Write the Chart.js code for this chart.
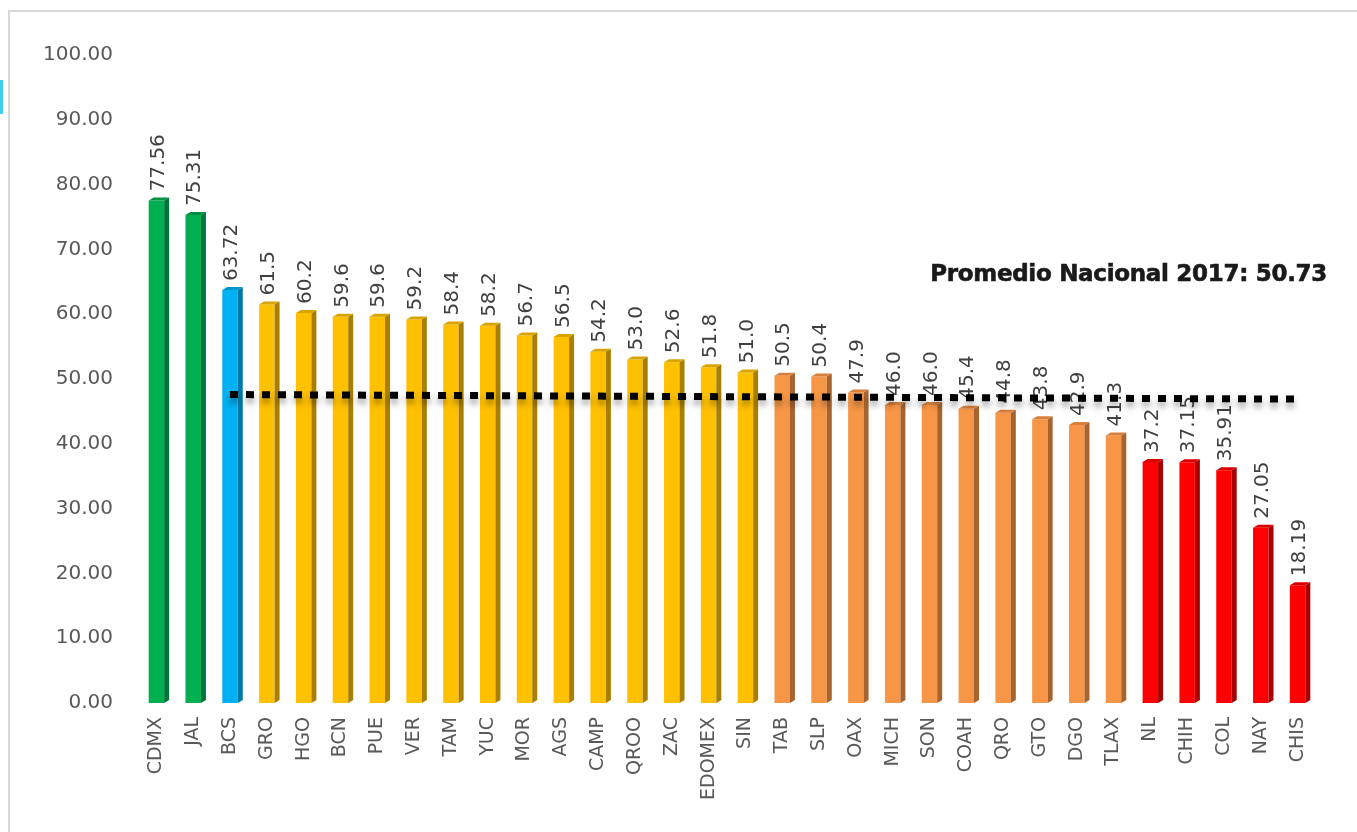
<!DOCTYPE html>
<html>
<head>
<meta charset="utf-8">
<script src="https://cdn.jsdelivr.net/npm/chart.js@4.4.1/dist/chart.umd.min.js"></script>
<style>
  body { margin: 0; background: #fff; overflow: hidden; }
  #frame { position: absolute; left: 8px; top: 10px; width: 1400px; height: 900px;
           border-top: 2px solid #d9d9d9; border-left: 2px solid #d9d9d9; }
  #mark { position: absolute; left: 0; top: 80px; width: 3px; height: 34px; background: #3fcfee; }
  #title { position: absolute; right: 30px; top: 260px; font-family: "DejaVu Sans", sans-serif;
           font-weight: bold; font-size: 23px; color: #1a1a1a; letter-spacing: -0.3px;
           -webkit-text-stroke: 0.6px #1a1a1a; }
  canvas { position: absolute; left: 0; top: 0; }
</style>
</head>
<body>
<div id="frame"></div>
<div id="mark"></div>
<canvas id="chart" width="1357" height="832"></canvas>
<div id="title">Promedio Nacional 2017: 50.73</div>
<script>
const states = ['CDMX', 'JAL', 'BCS', 'GRO', 'HGO', 'BCN', 'PUE', 'VER', 'TAM', 'YUC', 'MOR', 'AGS', 'CAMP', 'QROO', 'ZAC', 'EDOMEX', 'SIN',
    'TAB', 'SLP', 'OAX', 'MICH', 'SON', 'COAH', 'QRO', 'GTO', 'DGO', 'TLAX', 'NL', 'CHIH', 'COL', 'NAY', 'CHIS'];
const scores = [77.56, 75.31, 63.72, 61.5, 60.2, 59.6, 59.6, 59.2, 58.4, 58.2, 56.7, 56.5, 54.2, 53.0, 52.6, 51.8, 51.0,
    50.5, 50.4, 47.9, 46.0, 46.0, 45.4, 44.8, 43.8, 42.9, 41.3, 37.2, 37.15, 35.91, 27.05, 18.19];
const scoreLabels = ['77.56', '75.31', '63.72', '61.5', '60.2', '59.6', '59.6', '59.2', '58.4', '58.2', '56.7', '56.5', '54.2', '53.0', '52.6', '51.8', '51.0',
    '50.5', '50.4', '47.9', '46.0', '46.0', '45.4', '44.8', '43.8', '42.9', '41.3', '37.2', '37.15', '35.91', '27.05', '18.19'];
// tier of each state: 0 green, 1 blue, 2 yellow, 3 orange, 4 red
const tiers = [0, 0, 1, 2, 2, 2, 2, 2, 2, 2, 2, 2, 2, 2, 2, 2, 2,
    3, 3, 3, 3, 3, 3, 3, 3, 3, 3, 4, 4, 4, 4, 4];
// hand drawn average line, as it sits in the picture (start and end)
const avgLine = [null, null, 47.6, null, null, null, null, null, null, null, null, null, null, null, null, null, null,
    null, null, null, null, null, null, null, null, null, null, null, null, null, null, 46.9];
const yTicks = [0, 10, 20, 30, 40, 50, 60, 70, 80, 90, 100];

const frontColors = ['#00b050', '#00b0f0', '#ffc000', '#f79646', '#ff0000'];
const sideColors = ['#00753a', '#0079a6', '#a87f00', '#a8642f', '#a80000'];
const topColors = ['#008f42', '#0096cc', '#d9a300', '#d77f3b', '#d90000'];

const textColor = '#595959';
const fontFamily = '"DejaVu Sans", sans-serif';

const bar3d = {
    id: 'bar3d',
    afterDatasetDraw(chart, args) {
        if (args.index !== 0) return;
        const ctx = chart.ctx;
        const d = 5, h = 3;
        args.meta.data.forEach((bar, i) => {
            const p = bar.getProps(['x', 'y', 'base', 'width'], true);
            const l = p.x - p.width / 2, r = p.x + p.width / 2;
            const t = tiers[i];
            ctx.fillStyle = sideColors[t];
            ctx.beginPath();
            ctx.moveTo(r, p.y);
            ctx.lineTo(r + d, p.y - h);
            ctx.lineTo(r + d, p.base - h);
            ctx.lineTo(r, p.base);
            ctx.closePath();
            ctx.fill();
            ctx.fillStyle = topColors[t];
            ctx.beginPath();
            ctx.moveTo(l, p.y);
            ctx.lineTo(l + d, p.y - h);
            ctx.lineTo(r + d, p.y - h);
            ctx.lineTo(r, p.y);
            ctx.closePath();
            ctx.fill();

            ctx.save();
            ctx.translate(p.x + 2, p.y - 9);
            ctx.rotate(-Math.PI / 2);
            ctx.fillStyle = '#404040';
            ctx.font = '20px ' + fontFamily;
            ctx.textAlign = 'left';
            ctx.textBaseline = 'middle';
            ctx.fillText(scoreLabels[i], 0, 0);
            ctx.restore();
        });
    }
};

const lineShadow = {
    id: 'lineShadow',
    beforeDatasetDraw(chart, args) {
        if (args.index !== 1) return;
        const ctx = chart.ctx;
        ctx.save();
        ctx.shadowColor = 'rgba(0,0,0,0.35)';
        ctx.shadowBlur = 6;
        ctx.shadowOffsetY = 5;
    },
    afterDatasetDraw(chart, args) {
        if (args.index !== 1) return;
        chart.ctx.restore();
    }
};

const ctx = document.getElementById('chart').getContext('2d');
const myChart = new Chart(ctx, {
    type: 'bar',
    data: {
        labels: states,
        datasets: [{
            type: 'bar',
            data: scores,
            backgroundColor: tiers.map(t => frontColors[t]),
            barPercentage: 0.42,
            categoryPercentage: 1,
            order: 1
        }, {
            type: 'line',
            data: avgLine,
            borderColor: '#000',
            borderWidth: 7,
            borderDash: [8, 8],
            borderCapStyle: 'butt',
            pointRadius: 0,
            spanGaps: true,
            tension: 0,
            order: 0
        }]
    },
    options: {
        responsive: false,
        animation: false,
        layout: { padding: { top: 55, right: 41, left: 0, bottom: 0 } },
        plugins: { legend: { display: false }, tooltip: { enabled: false } },
        scales: {
            x: {
                grid: { display: false },
                border: { display: false },
                ticks: { maxRotation: 90, minRotation: 90, color: textColor, padding: 6,
                         font: { family: fontFamily, size: 19 } },
                afterFit: s => { s.height = 129; }
            },
            y: {
                min: 0,
                max: 100,
                afterBuildTicks: s => { s.ticks = yTicks.map(v => ({ value: v })); },
                grid: { display: false },
                border: { display: false },
                ticks: { color: textColor, padding: 17, font: { family: fontFamily, size: 20 },
                         callback: v => v.toFixed(2) },
                afterFit: s => { s.width = 138; }
            }
        }
    },
    plugins: [bar3d, lineShadow]
});
</script>
</body>
</html>
